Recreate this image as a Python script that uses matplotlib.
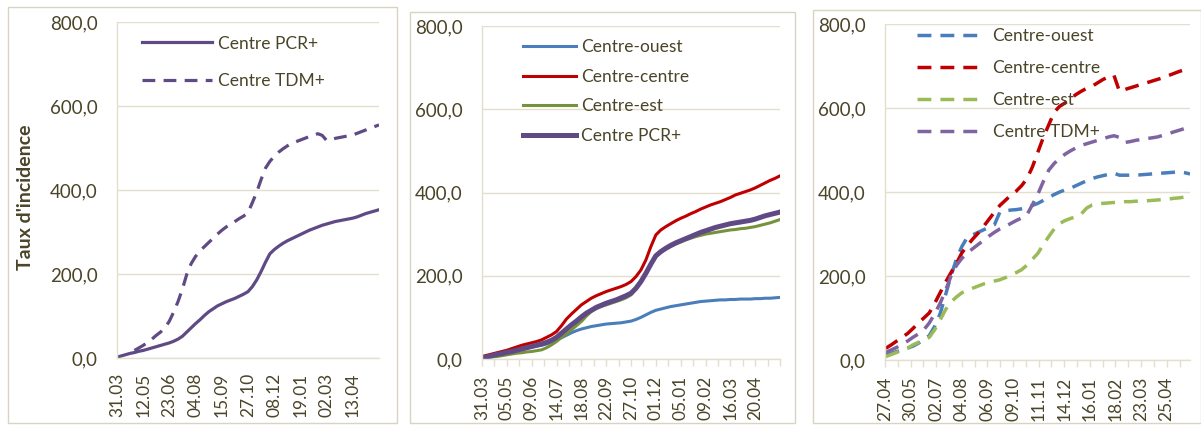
import numpy as np
import pandas as pd
import matplotlib
matplotlib.use('Agg')
import matplotlib.pyplot as plt
import matplotlib.dates as mdates
from matplotlib.patches import Rectangle

'''data: weekly rates (per 100 000), from 31.03.2020'''
weeks = pd.date_range('2020-03-31', periods=61, freq='7D')
weeks_tdm = weeks[4:]  # TDM+ series start 28.04

centre_pcr = [2, 5, 8, 11, 13, 16, 18, 21, 24, 27, 30, 33, 36, 40, 45, 52, 62, 72, 82, 91,
              101, 110, 117, 124, 129, 134, 138, 142, 147, 152, 158, 170, 186, 206, 228, 248, 258, 266, 273, 279,
              284, 289, 294, 299, 304, 308, 312, 316, 319, 322, 325, 327, 329, 331, 333, 336, 340, 344, 347, 350, 353]
centre_tdm = [18, 24, 30, 37, 45, 54, 62, 72, 88, 110, 135, 165, 200, 225, 242, 255, 265, 275, 285, 295,
              304, 312, 318, 325, 332, 338, 346, 370, 395, 425, 452, 468, 480, 490, 498, 505, 511, 515, 519, 523,
              527, 531, 534, 530, 518, 520, 523, 525, 527, 529, 531, 535, 539, 543, 547, 551, 555]

ouest_pcr = [2, 5, 8, 11, 14, 17, 19, 22, 24, 27, 29, 31, 33, 36, 40, 45, 51, 57, 63, 68,
             72, 75, 78, 80, 82, 84, 85, 86, 87, 89, 91, 95, 100, 106, 112, 117, 120, 123, 126, 128,
             130, 132, 134, 136, 138, 139, 140, 141, 142, 142, 143, 143, 144, 144, 144, 145, 145, 146, 146, 147, 148]
centre_centre_pcr = [6, 9, 12, 15, 18, 21, 25, 29, 33, 36, 39, 42, 46, 52, 58, 66, 80, 96, 108, 119,
                     130, 138, 146, 152, 157, 162, 166, 170, 174, 179, 186, 198, 214, 238, 270, 298, 310, 318, 325, 332,
                     338, 343, 349, 354, 360, 365, 370, 374, 378, 383, 388, 394, 398, 402, 406, 411, 417, 423, 429, 434, 440]
est_pcr = [2, 3, 5, 6, 8, 10, 12, 14, 15, 17, 18, 20, 22, 27, 34, 42, 52, 61, 70, 80,
           90, 103, 114, 121, 126, 130, 134, 138, 142, 147, 154, 168, 186, 206, 228, 246, 256, 264, 270, 276,
           281, 286, 290, 294, 297, 300, 302, 304, 306, 308, 310, 311, 313, 314, 316, 318, 321, 324, 327, 331, 335]

ouest_tdm = [12, 16, 20, 24, 28, 33, 40, 48, 58, 80, 110, 155, 200, 240, 270, 292, 298, 304, 310, 316,
             322, 352, 355, 357, 358, 360, 363, 368, 373, 380, 387, 394, 400, 405, 409, 415, 421, 427, 432, 436,
             439, 442, 445, 440, 440, 440, 440, 441, 442, 443, 444, 445, 446, 447, 448, 446, 443]
centre_centre_tdm = [28, 36, 45, 54, 63, 75, 88, 100, 112, 135, 160, 185, 208, 230, 255, 272, 288, 302, 318, 335,
                     352, 368, 380, 392, 402, 415, 432, 460, 495, 530, 560, 590, 604, 612, 622, 632, 640, 647, 652, 660,
                     668, 674, 678, 640, 644, 648, 652, 656, 660, 664, 668, 672, 677, 682, 687, 691, 694]
est_tdm = [8, 13, 18, 23, 28, 36, 42, 48, 54, 72, 95, 120, 138, 150, 160, 166, 171, 176, 181, 184,
           188, 191, 196, 202, 208, 215, 226, 240, 254, 275, 294, 312, 325, 332, 337, 341, 348, 362, 369, 371,
           373, 374, 375, 376, 377, 377, 378, 378, 379, 380, 381, 382, 383, 385, 386, 388, 389]

ticks1 = pd.date_range('2020-03-31', periods=10, freq='42D')
ticks2 = pd.date_range('2020-03-31', periods=12, freq='35D')
ticks3 = pd.date_range('2020-04-27', periods=12, freq='33D')
yticks = [0, 200, 400, 600, 800]

'''colors'''
TXT = '#4A4528'
GRID = '#E3DFCF'
FRAME = '#D8D4C4'
PURPLE = '#5F4A85'
BLUE = '#4A7EBB'
RED = '#C00000'
GREEN = '#76923C'
LGREEN = '#9BBB59'
LPURPLE = '#8064A2'

plt.rcParams['font.family'] = ['Lato', 'DejaVu Sans']
plt.rcParams['text.color'] = TXT

fig = plt.figure(figsize=(12.01, 4.25), dpi=100)

# outer frames of the 3 charts
for (x0, y0, x1, y1) in [(8, 7, 397, 423), (410, 12, 795, 423), (813, 10, 1201, 423)]:
    fig.patches.append(Rectangle((x0/1201, 1-y1/425), (x1-x0)/1201, (y1-y0)/425,
                                 transform=fig.transFigure, fill=False, ec=FRAME, lw=1))

ax1 = fig.add_axes([117/1201, 1-358/425, 262/1201, 336/425])
ax2 = fig.add_axes([482/1201, 1-359/425, 298/1201, 333/425])
ax3 = fig.add_axes([885/1201, 1-360/425, 305/1201, 336/425])

def setup(ax, ticks, start, minor):
    ax.set_ylim(0, 800)
    ax.set_xlim(mdates.date2num(pd.Timestamp(start)), mdates.date2num(pd.Timestamp('2021-05-25')))
    ax.set_yticks(yticks)
    ax.set_yticklabels(['%d,0' % v for v in yticks])
    ax.yaxis.grid(True, color=GRID, lw=1)
    ax.set_axisbelow(True)
    ax.set_xticks(mdates.date2num(ticks))
    ax.set_xticklabels([t.strftime('%d.%m') for t in ticks], rotation=90)
    if minor:
        t = mdates.date2num(ticks)
        step = (t[1]-t[0])/2.0
        mt = np.arange(t[0], ax.get_xlim()[1]+0.1, step)
        ax.set_xticks(mt, minor=True)
        ax.tick_params(axis='x', which='both', length=5, color=GRID, width=1, pad=7)
    else:
        ax.tick_params(axis='x', which='both', length=0, pad=10.5)
    ax.tick_params(axis='y', length=0, pad=14, labelsize=13.5)
    ax.tick_params(axis='x', labelsize=12.5)
    ax.tick_params(axis='both', labelcolor=TXT)
    for s in ['top', 'right']:
        ax.spines[s].set_visible(False)
    for s in ['left', 'bottom']:
        ax.spines[s].set_color(GRID)
        ax.spines[s].set_linewidth(1)

setup(ax1, ticks1, '2020-03-31', False)
setup(ax2, ticks2, '2020-03-31', True)
setup(ax3, ticks3, '2020-04-27', True)

x = mdates.date2num(weeks)
xt = mdates.date2num(weeks_tdm)
DASH = (4, 2.6)

# chart 1
ax1.plot(x, centre_pcr, color=PURPLE, lw=2.3, label='Centre PCR+')
ax1.plot(xt, centre_tdm, color=PURPLE, lw=2.3, dashes=DASH, label='Centre TDM+')
ax1.set_ylabel("Taux d'incidence", fontsize=14, fontweight='bold', color=TXT)
ax1.yaxis.set_label_coords(-0.318, 0.479)
ax1.legend(loc='upper left', bbox_to_anchor=(0.043, 1.001), frameon=False, fontsize=12.5,
           handlelength=4.0, handletextpad=0.35, labelspacing=1.22, borderpad=0.3)

# chart 2
ax2.plot(x, ouest_pcr, color=BLUE, lw=2.2, label='Centre-ouest')
ax2.plot(x, centre_centre_pcr, color=RED, lw=2.2, label='Centre-centre')
ax2.plot(x, est_pcr, color=GREEN, lw=2.2, label='Centre-est')
ax2.plot(x, centre_pcr, color=PURPLE, lw=3.6, label='Centre PCR+')
ax2.legend(loc='upper left', bbox_to_anchor=(0.0915, 1.002), frameon=False, fontsize=12.5,
           handlelength=3.05, handletextpad=0.29, labelspacing=0.78, borderpad=0.3)

# chart 3
ax3.plot(xt, ouest_tdm, color=BLUE, lw=2.5, dashes=DASH, label='Centre-ouest')
ax3.plot(xt, centre_centre_tdm, color=RED, lw=2.5, dashes=DASH, label='Centre-centre')
ax3.plot(xt, est_tdm, color=LGREEN, lw=2.5, dashes=DASH, label='Centre-est')
ax3.plot(xt, centre_tdm, color=LPURPLE, lw=2.5, dashes=DASH, label='Centre TDM+')
ax3.legend(loc='upper left', bbox_to_anchor=(0.059, 1.03), frameon=False, fontsize=12.5,
           handlelength=3.9, handletextpad=0.46, labelspacing=0.92, borderpad=0.3)

fig.savefig('out.png', dpi=100)
